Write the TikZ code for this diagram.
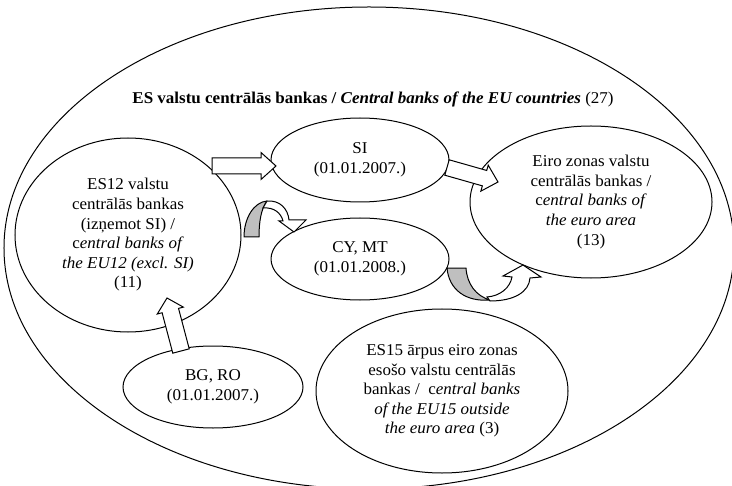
\documentclass[tikz,border=0pt]{standalone}
\usepackage{fontspec}
\setmainfont{Liberation Serif}[FakeStretch=1.03]
\usetikzlibrary{calc,shapes.geometric}
\definecolor{bandgray}{RGB}{191,191,191}

\tikzset{
  txt/.style={font=\fontsize{16.5bp}{19.6bp}\selectfont},
  bank/.style={ellipse, draw, line width=1bp, inner sep=0pt, align=center, txt},
  arrowbox/.style={draw, line width=1bp, fill=white, line join=miter},
  bandback/.style={draw, line width=1bp, fill=bandgray, line join=round},
  bandfront/.style={draw, line width=1bp, fill=white, line join=miter},
}

% block arrow: tail, tip, half shaft width, half head width, head length
\newcommand\blockarrow[5]{%
  \coordinate (ba-neck) at ($(#2)!#5!(#1)$);
  \draw[arrowbox] ($(#1)!#3!90:(#2)$) -- ($(ba-neck)!#3!90:(#2)$)
    -- ($(ba-neck)!#4!90:(#2)$) -- (#2) -- ($(ba-neck)!#4!-90:(#2)$)
    -- ($(ba-neck)!#3!-90:(#2)$) -- ($(#1)!#3!-90:(#2)$) -- cycle;}

\begin{document}
\begin{tikzpicture}[x=1bp, y=-1bp]
\useasboundingbox (0,0) rectangle (732,486);

% all EU central banks
\node[ellipse, draw, line width=1bp, inner sep=0pt,
      minimum width=730bp, minimum height=482bp] (eu) at (369,248) {};
\node[txt, anchor=base] (title) at (373,104)
  {\textbf{ES valstu centrālās bankas / \textit{Central banks of the EU countries}} (27)};

% groups of central banks
\node[bank, minimum width=226bp, minimum height=194bp] (es12) at (128,235)
  {ES12 valstu\\centrālās bankas\\(izņemot SI) /\\c\textit{entral banks of}\\\textit{the EU12 (excl. SI)}\\(11)};
\node[bank, minimum width=178bp, minimum height=84bp] (si) at (360,160)
  {SI\\(01.01.2007.)};
\node[bank, minimum width=178bp, minimum height=82bp] (cymt) at (360,259)
  {CY, MT\\(01.01.2008.)};
\node[bank, minimum width=242bp, minimum height=152bp] (eiro) at (591,202)
  {Eiro zonas valstu\\centrālās bankas /\\c\textit{entral banks of}\\\textit{the euro area}\\(13)};
\node[bank, minimum width=180bp, minimum height=82bp] (bgro) at (213,387)
  {BG, RO\\(01.01.2007.)};
\node[bank, minimum width=252bp, minimum height=164bp] (es15) at (442,391)
  {ES15 ārpus eiro zonas\\esošo valstu centrālās\\bankas /\ \ c\textit{entral banks}\\\textit{of the EU15 outside}\\\textit{the euro area} (3)};

% block arrows
\coordinate (a1s) at (212,166);   \coordinate (a1e) at (276,166);
\blockarrow{a1s}{a1e}{8bp}{13.5bp}{15bp}
\coordinate (a2s) at (447,167.5); \coordinate (a2e) at (498,182);
\blockarrow{a2s}{a2e}{8bp}{13.5bp}{14bp}
\coordinate (a3s) at (181,351);   \coordinate (a3e) at (167,298);
\blockarrow{a3s}{a3e}{8.5bp}{13.5bp}{13bp}

% curved arrow from the EU12 banks down to CY, MT
\draw[bandback] (244,237) -- (259,237) .. controls (259,222) and (261,209) .. (267,201)
  .. controls (254,202) and (244,218) .. (244,237) -- cycle;
\draw[bandfront] (267,201) .. controls (280,200) and (288,209) .. (289,220)
  -- (306,220) -- (294,232) -- (279,221) -- (283,221)
  .. controls (281,213) and (274,207) .. (263,208) -- cycle;

% curved arrow from CY, MT up to the euro area
\draw[bandback] (447,268) -- (466,268) .. controls (467,284) and (476,296) .. (490,300)
  .. controls (466,302) and (449,290) .. (447,268) -- cycle;
\draw[bandfront] (490,301) .. controls (514,301) and (529,292) .. (530,278)
  -- (541,277) -- (523,265) -- (503,276) -- (512,277)
  .. controls (510,288) and (500,296) .. (487,297) -- cycle;
\end{tikzpicture}
\end{document}
